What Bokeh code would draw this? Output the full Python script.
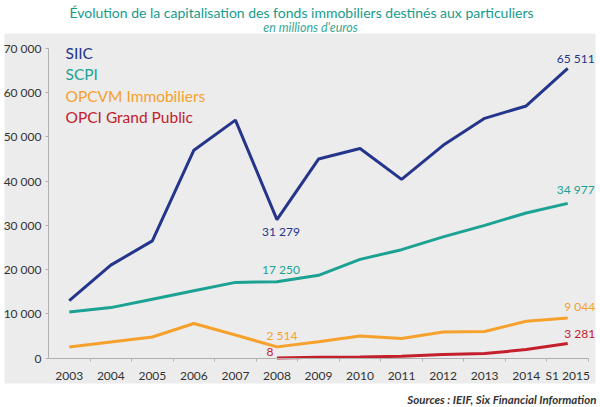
from bokeh.plotting import figure
from bokeh.models import Range1d, LinearAxis, FixedTicker, Label, ColumnDataSource
from bokeh.embed import file_html
from bokeh.resources import INLINE

# ---- data ----
years = ["2003", "2004", "2005", "2006", "2007", "2008", "2009", "2010",
         "2011", "2012", "2013", "2014", "S1 2015"]
siic = [13000, 21000, 26500, 47000, 53800, 31279, 45000, 47400, 40400, 48100, 54200, 57000, 65511]
scpi = [10400, 11400, 13300, 15200, 17100, 17250, 18700, 22300, 24500, 27400, 30000, 32800, 34977]
opcvm = [2500, 3600, 4750, 7800, 5200, 2514, 3700, 5000, 4400, 5900, 6000, 8300, 9044]
opci_years = ["2008", "2009", "2010", "2011", "2012", "2013", "2014", "S1 2015"]
opci = [8, 150, 250, 400, 800, 1000, 1900, 3281]
y_ticks = [0, 10000, 20000, 30000, 40000, 50000, 60000, 70000]
y_tick_labels = ["0", "10 000", "20 000", "30 000", "40 000", "50 000", "60 000", "70 000"]
series_names = ["SIIC", "SCPI", "OPCVM Immobiliers", "OPCI Grand Public"]
title_text = "Évolution de la capitalisation des fonds immobiliers destinés aux particuliers"
subtitle_text = "en millions d'euros"
source_text = "Sources : IEIF, Six Financial Information"

# ---- style ----
FONT = "Lato"
C_SIIC = "#24358b"
C_SCPI = "#1ba293"
C_OPCVM = "#f5a12c"
C_OPCI = "#c3202c"
C_TITLE = "#179b8b"
C_SUB = "#3aa797"
GREY_BG = "#ececec"
TXT = "#333333"
AX = "#b0b0b0"

W, H = 600, 407
n = len(years)
pos = {y: i + 0.5 for i, y in enumerate(years)}   # slot centres on a numeric scale

# layout geometry (pixels)
AX_LEFT, AX_RIGHT = 48, 588
Y0_PX, YTOP_PX = 357.5, 48
px_per_slot = (AX_RIGHT - AX_LEFT) / n
px_per_unit = (Y0_PX - YTOP_PX) / y_ticks[-1]


def to_x(sx):
    return (sx - AX_LEFT) / px_per_slot


def to_y(sy):
    return (Y0_PX - sy) / px_per_unit


p = figure(width=W, height=H, x_range=Range1d(to_x(0), to_x(W)), y_range=Range1d(to_y(H), to_y(0)),
           x_axis_location=None, y_axis_location=None,
           output_backend="svg", toolbar_location=None, min_border=0,
           background_fill_color="white", border_fill_color="white", outline_line_color=None)
p.grid.visible = False

# grey panel, drawn first at glyph level so the series lines sit on top of it
p.quad(left=[to_x(4)], right=[to_x(595)], top=[to_y(33)], bottom=[to_y(383)],
       fill_color=GREY_BG, fill_alpha=1.0, line_color=None)

# y axis
yax = LinearAxis(ticker=FixedTicker(ticks=y_ticks, minor_ticks=[]),
                 major_label_overrides={t: l for t, l in zip(y_ticks, y_tick_labels)},
                 bounds=(y_ticks[0], y_ticks[-1]), fixed_location=0)
yax.axis_line_color = AX
yax.major_tick_line_color = AX
yax.major_tick_out = 3
yax.major_tick_in = 0
yax.minor_tick_line_color = None
yax.major_label_text_font = FONT
yax.major_label_text_font_size = "12px"
yax.major_label_text_color = TXT
yax.major_label_standoff = 4
p.add_layout(yax, "left")

# x axis: labels at slot centres, small ticks at slot boundaries
xax = LinearAxis(ticker=FixedTicker(ticks=[pos[y] for y in years],
                                    minor_ticks=list(range(1, n + 1))),
                 major_label_overrides={pos[y]: y for y in years},
                 bounds=(0, n), fixed_location=0)
xax.axis_line_color = AX
xax.major_tick_line_color = None
xax.major_tick_out = 0
xax.major_tick_in = 0
xax.minor_tick_line_color = AX
xax.minor_tick_out = 3
xax.minor_tick_in = 0
xax.major_label_text_font = FONT
xax.major_label_text_font_size = "12px"
xax.major_label_text_color = TXT
xax.major_label_standoff = 7
p.add_layout(xax, "below")

# lines
src = ColumnDataSource(dict(x=[pos[y] for y in years], siic=siic, scpi=scpi, opcvm=opcvm))
src2 = ColumnDataSource(dict(x=[pos[y] for y in opci_years], opci=opci))
p.line("x", "opci", source=src2, line_color=C_OPCI, line_width=3)
p.line("x", "opcvm", source=src, line_color=C_OPCVM, line_width=3)
p.line("x", "scpi", source=src, line_color=C_SCPI, line_width=3)
p.line("x", "siic", source=src, line_color=C_SIIC, line_width=3)


def fmt(v):
    return f"{v:,}".replace(",", " ")


def vlabel(year, y, color, dx, dy):
    p.add_layout(Label(x=pos[year], y=y, text=fmt(y), text_color=color, text_font=FONT,
                       text_font_size="12px", text_align="center", text_baseline="middle",
                       x_offset=dx, y_offset=dy))


vlabel(years[-1], siic[-1], C_SIIC, 8, 10)
vlabel(years[-1], scpi[-1], C_SCPI, 8, 14)
vlabel(years[-1], opcvm[-1], C_OPCVM, 12, 12)
vlabel(years[-1], opci[-1], C_OPCI, 12, 10)
vlabel("2008", siic[years.index("2008")], C_SIIC, 4, -12)
vlabel("2008", scpi[years.index("2008")], C_SCPI, 4, 12)
vlabel("2008", opcvm[years.index("2008")], C_OPCVM, 5, 11)
vlabel("2008", opci[0], C_OPCI, -7, 6)

# legend as coloured texts
leg_colors = [C_SIIC, C_SCPI, C_OPCVM, C_OPCI]
leg_sy = [52, 73, 95, 116]
for name, col, sy in zip(series_names, leg_colors, leg_sy):
    p.add_layout(Label(x=to_x(65), y=to_y(sy), text=name, text_color=col, text_font=FONT,
                       text_font_size="15.5px", text_baseline="middle", text_align="left"))

# title, subtitle, source
p.add_layout(Label(x=to_x(301), y=to_y(12), text=title_text, text_font=FONT, text_font_size="14px",
                   text_color=C_TITLE, text_align="center", text_baseline="middle"))
p.add_layout(Label(x=to_x(310), y=to_y(27), text=subtitle_text, text_font=FONT,
                   text_font_size="12.5px", text_font_style="italic", text_color=C_SUB,
                   text_align="center", text_baseline="middle"))
p.add_layout(Label(x=to_x(596), y=to_y(399), text=source_text, text_font=FONT,
                   text_font_size="11.5px", text_font_style="bold italic", text_color=TXT,
                   text_align="right", text_baseline="middle"))

open("out.html", "w").write(file_html(p, INLINE))
